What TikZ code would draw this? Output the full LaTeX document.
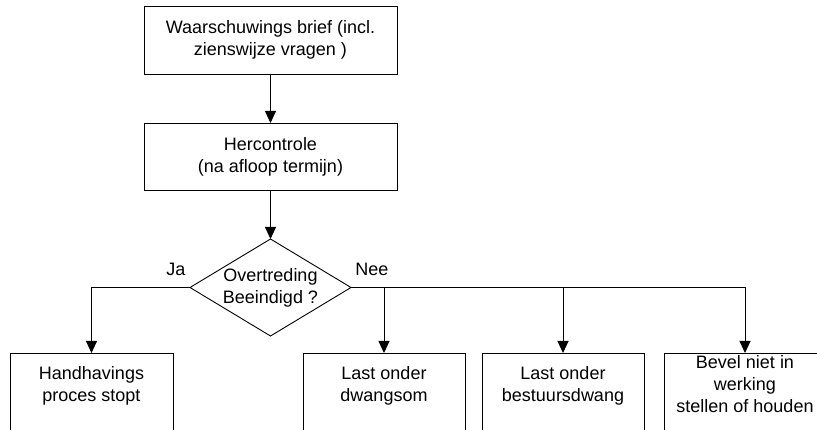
\documentclass[tikz,border=0pt]{standalone}
\usepackage{fontspec}
\setmainfont{Liberation Sans}
\usetikzlibrary{shapes.geometric,arrows.meta}

\tikzset{
    stapbox/.style={draw, rectangle, inner sep=0pt, outer sep=0pt, line width=0.9pt},
    keuze/.style={draw, diamond, inner sep=0pt, outer sep=0pt, line width=0.9pt,
        minimum width=161pt, minimum height=97pt},
    tekst/.style={align=center, inner sep=0pt, font=\fontsize{18}{22}\selectfont},
    pijl/.style={line width=0.9pt, -{Triangle[length=12pt,width=11pt]}}
}

\begin{document}
\begin{tikzpicture}[x=1pt,y=-1pt]
        \useasboundingbox (0,0) rectangle (817,430);
        \clip (0,0) rectangle (817,430);
        \fill[white] (0,0) rectangle (817,430);
        % bovenste stappen
        \node[stapbox, minimum width=253pt, minimum height=68pt, anchor=north] (brief) at (270.5,6) {};
        \node[tekst] (brieftxt) at (brief) {Waarschuwings brief (incl.\\zienswijze vragen )};
        \node[stapbox, minimum width=253pt, minimum height=67pt, anchor=north] (hercontrole) at (270.5,123) {};
        \node[tekst] (hercontroletxt) at (hercontrole) {Hercontrole\\(na afloop termijn)};
        % keuze
        \node[keuze] (check) at (270.5,287.5) {};
        \node[tekst] (checktxt) at (check) {Overtreding\\Beeindigd ?};
        \node[tekst] (ja) at (176,269) {Ja};
        \node[tekst] (nee) at (372,269) {Nee};
        % onderste stappen (onderkant valt buiten beeld)
        \node[stapbox, minimum width=163pt, minimum height=100pt, anchor=north] (stop) at (91.5,353) {};
        \node[stapbox, minimum width=162pt, minimum height=100pt, anchor=north] (dwangsom) at (384,353) {};
        \node[stapbox, minimum width=162pt, minimum height=100pt, anchor=north] (bestuur) at (563,353) {};
        \node[stapbox, minimum width=162pt, minimum height=100pt, anchor=north] (bevel) at (745,353) {};
        \node[tekst] (stoptxt) at (91.5,386) {Handhavings\\proces stopt};
        \node[tekst] (dwangsomtxt) at (384,386) {Last onder\\dwangsom};
        \node[tekst] (bestuurtxt) at (563,386) {Last onder\\bestuursdwang};
        \node[tekst] (beveltxt) at (745,384) {Bevel niet in\\werking\\stellen of houden};
        % pijlen
        \draw[pijl] (brief) -- (hercontrole);
        \draw[pijl] (hercontrole) -- (check);
        \draw[pijl] (check.west) -| (stop.north);
        \draw[pijl] (check.east) -| (dwangsom.north);
        \draw[pijl] (check.east) -| (bestuur.north);
        \draw[pijl] (check.east) -| (bevel.north);
    \end{tikzpicture}
\end{document}
